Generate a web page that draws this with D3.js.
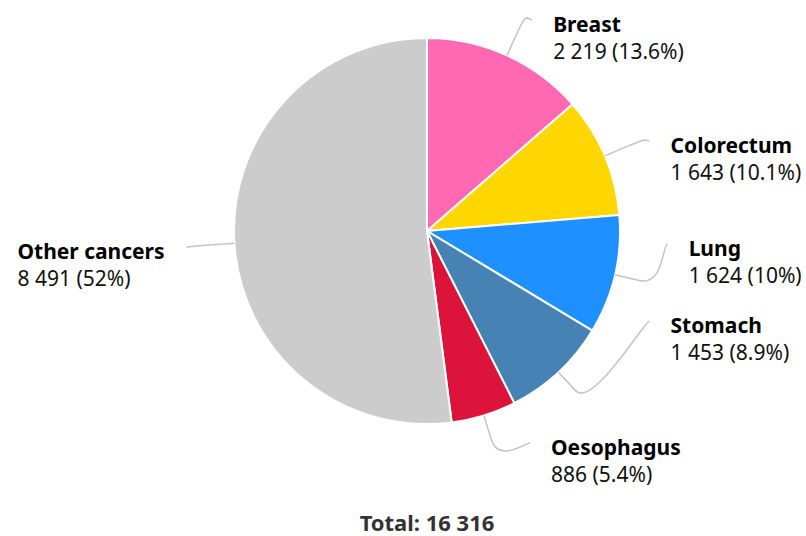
<!DOCTYPE html>
<html>
<head>
  <meta charset="UTF-8">
  <style>
    body { margin: 0; background: #fff; }
    text { font-family: "Noto Sans", "Open Sans", sans-serif; }
  </style>
</head>
<body>
  <svg></svg>
<script src="https://d3js.org/d3.v7.min.js"></script>
<script>
let width = 806,
    height = 536;

// data
let categories = ["Breast", "Colorectum", "Lung", "Stomach", "Oesophagus", "Other cancers"];
let values = [2219, 1643, 1624, 1453, 886, 8491];
let colors = ["#ff69b4", "#ffd700", "#1e90ff", "#4682b4", "#dc143c", "#cccccc"];

// label anchor rows (layout, y of connector end)
let labelRows = [20, 141, 244, 321, 443, 247];

let cx = 427, cy = 231, radius = 193;
let labelRx = 241, labelRy = 234.5, breakDist = 25;

let svg = d3.select("svg")
    .attr("width", width)
    .attr("height", height);

let total = d3.sum(values);
let locale = d3.formatLocale({decimal: ".", thousands: " ", grouping: [3], currency: ["", ""]});
let fmt = locale.format(",");

let pie = d3.pie().sort(null).value(d => d);
let arcs = pie(values);
let arc = d3.arc().innerRadius(0).outerRadius(radius);

let g = svg.append("g").attr("transform", "translate(" + cx + "," + cy + ")");

g.selectAll("path.slice")
  .data(arcs)
  .enter()
  .append("path")
    .attr("class", "slice")
    .attr("d", arc)
    .attr("fill", (d, i) => colors[i])
    .attr("stroke", "#fff")
    .attr("stroke-width", 2)
    .attr("stroke-linejoin", "round");

// connectors + labels
arcs.forEach((d, i) => {
  let a = (d.startAngle + d.endAngle) / 2;
  let sx = Math.sin(a), sy = -Math.cos(a);
  let left = sx < 0;
  let tx = radius * sx, ty = radius * sy;
  let bx = (radius + breakDist) * sx, by = (radius + breakDist) * sy;
  let ly = labelRows[i] - cy;
  let ang = Math.asin(Math.max(-1, Math.min(1, ly / labelRy)));
  let lx = (left ? -1 : 1) * Math.cos(ang) * labelRx;

  let p = d3.path();
  p.moveTo(lx, ly);
  p.bezierCurveTo(lx + (left ? 5 : -5), ly, 2 * bx - tx, 2 * by - ty, bx, by);
  p.lineTo(tx, ty);
  g.append("path")
    .attr("d", p.toString())
    .attr("fill", "none")
    .attr("stroke", "#c4c4c4")
    .attr("stroke-width", 1.5);

  let pct = +(d.value / total * 100).toFixed(1);
  let t = g.append("g");
  let name = t.append("text")
    .attr("y", ly + 12)
    .attr("font-size", 21)
    .attr("font-weight", "bold")
    .attr("fill", "#000")
    .text(categories[i]);
  let val = t.append("text")
    .attr("y", ly + 12 + 26.5)
    .attr("font-size", 21)
    .attr("fill", "#111")
    .text(fmt(d.value) + " (" + pct + "%)");
  let x0;
  if (left) {
    let w = Math.max(name.node().getComputedTextLength(), val.node().getComputedTextLength());
    x0 = lx - 22 - w;
  } else {
    x0 = lx + 21;
  }
  name.attr("x", x0);
  val.attr("x", x0);
});

svg.append("text")
  .attr("x", cx)
  .attr("y", 531)
  .attr("text-anchor", "middle")
  .attr("font-size", 22)
  .attr("font-weight", "bold")
  .attr("fill", "#333")
  .text("Total: " + fmt(total));
</script>
</body>
</html>
